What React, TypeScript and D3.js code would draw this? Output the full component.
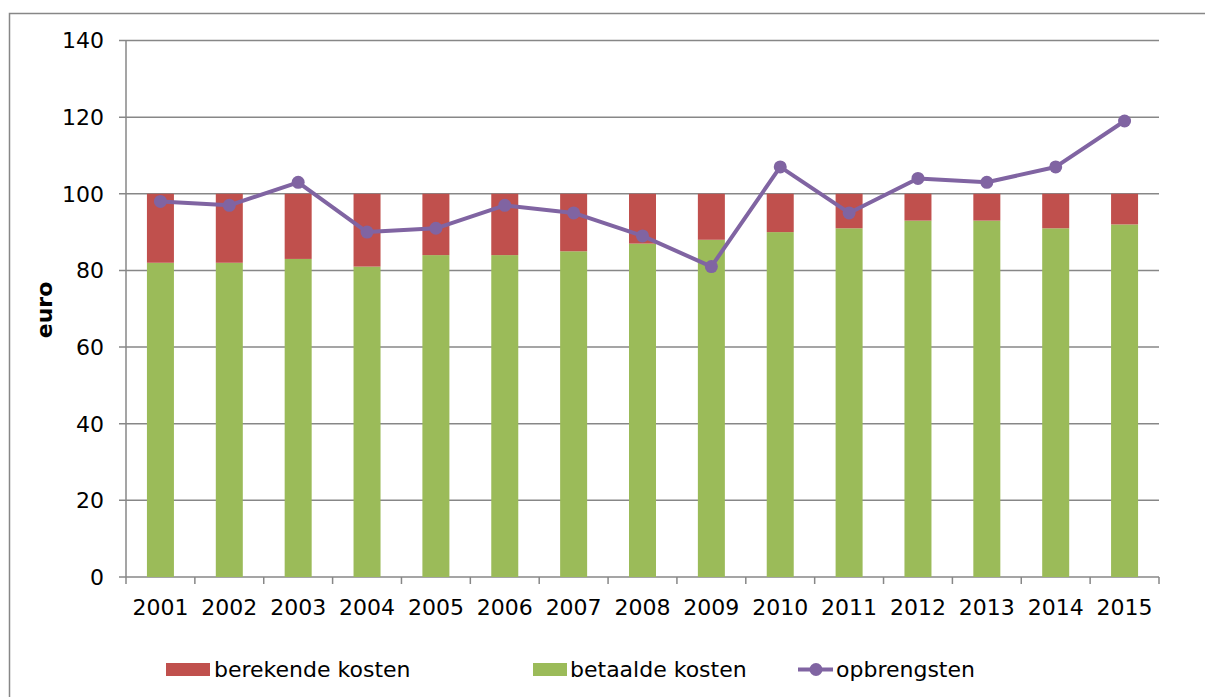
import React from "react";
import * as d3 from "d3";

const years = ["2001","2002","2003","2004","2005","2006","2007","2008","2009","2010","2011","2012","2013","2014","2015"];
const betaalde = [82,82,83,81,84,84,85,87,88,90,91,93,93,91,92];
const berekende = [18,18,17,19,16,16,15,13,12,10,9,7,7,9,8];
const opbrengsten = [98,97,103,90,91,97,95,89,81,107,95,104,103,107,119];
const yTicks = [0,20,40,60,80,100,120,140];

const W = 1205, H = 697;
const left = 126, right = 1159, top = 40.5, bottom = 577;
const RED = "#C0504D", GREEN = "#9BBB59", PURPLE = "#8064A2", GRID = "#878787";
const FONT = "DejaVu Sans, Verdana, sans-serif";
const FS = 22;

export default function App() {
  const xb = d3.scaleBand<string>().domain(years).range([left, right]);
  const y = d3.scaleLinear().domain([0, 140]).range([bottom, top]);
  const cx = (i: number) => (xb(years[i]) as number) + xb.bandwidth() / 2;
  const line = d3.line<number>().x((_, i) => cx(i)).y(d => y(d));
  return (
    <svg width={W} height={H} style={{ position: "absolute", left: 0, top: 0 }} fontFamily={FONT}>
      <rect x={0} y={0} width={W} height={H} fill="#fff" />
      <rect x={9.5} y={13.5} width={W + 20} height={H + 20} fill="none" stroke={GRID} strokeWidth={1.5} />
      {yTicks.map(t => (
        <g key={t}>
          <line x1={119} x2={right} y1={y(t)} y2={y(t)} stroke={GRID} strokeWidth={1.5} />
          <text x={104} y={y(t)} dy="0.36em" textAnchor="end" fontSize={FS} fill="#000">{t}</text>
        </g>
      ))}
      <line x1={left} x2={left} y1={top} y2={bottom} stroke={GRID} strokeWidth={1.5} />
      {years.map(yr => (
        <line key={"t" + yr} x1={xb(yr)} x2={xb(yr)} y1={bottom} y2={bottom + 7} stroke={GRID} strokeWidth={1.5} />
      ))}
      <line x1={right} x2={right} y1={bottom} y2={bottom + 7} stroke={GRID} strokeWidth={1.5} />
      {years.map((yr, i) => (
        <g key={yr}>
          <rect x={cx(i) - 13.5} width={27} y={y(betaalde[i])} height={y(0) - y(betaalde[i])} fill={GREEN} />
          <rect x={cx(i) - 13.5} width={27} y={y(betaalde[i] + berekende[i])} height={y(betaalde[i]) - y(betaalde[i] + berekende[i])} fill={RED} />
          <text x={cx(i)} y={615} textAnchor="middle" fontSize={FS} fill="#000">{yr}</text>
        </g>
      ))}
      <path d={line(opbrengsten) || ""} fill="none" stroke={PURPLE} strokeWidth={4} strokeLinejoin="round" />
      {opbrengsten.map((v, i) => (
        <circle key={i} cx={cx(i)} cy={y(v)} r={6.5} fill={PURPLE} />
      ))}
      <text transform={`translate(52,310) rotate(-90)`} textAnchor="middle" fontSize={FS} fontWeight="bold" fill="#000">euro</text>
      <rect x={166} y={663} width={44} height={13} fill={RED} />
      <text x={214} y={677} fontSize={FS} fill="#000">berekende kosten</text>
      <rect x={533} y={663} width={34} height={13} fill={GREEN} />
      <text x={570} y={677} fontSize={FS} fill="#000">betaalde kosten</text>
      <line x1={798} x2={833} y1={669.5} y2={669.5} stroke={PURPLE} strokeWidth={4} />
      <circle cx={816} cy={669.5} r={6.5} fill={PURPLE} />
      <text x={836} y={677} fontSize={FS} fill="#000">opbrengsten</text>
    </svg>
  );
}
